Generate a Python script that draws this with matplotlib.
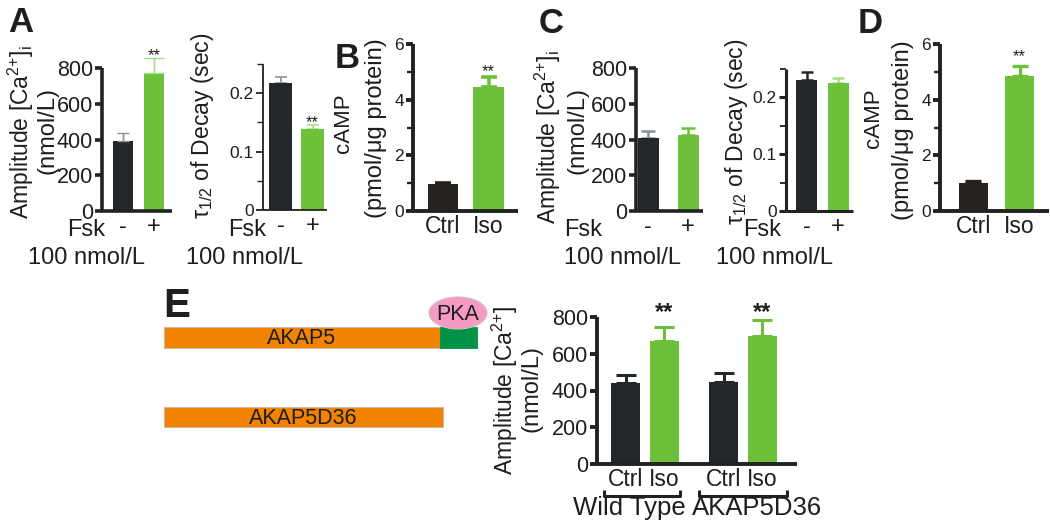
import matplotlib
matplotlib.use('Agg')
import matplotlib.pyplot as plt
from matplotlib.patches import Rectangle, Ellipse
import matplotlib.transforms as mtrans

plt.rcParams['font.family'] = ['Liberation Sans', 'DejaVu Sans']
plt.rcParams['mathtext.fontset'] = 'custom'
plt.rcParams['mathtext.rm'] = 'Liberation Sans'
plt.rcParams['mathtext.it'] = 'Liberation Sans:italic'
plt.rcParams['mathtext.sf'] = 'Liberation Sans'
plt.rcParams['mathtext.default'] = 'regular'

# ---------------- data ----------------
fsk_labels = ['-', '+']
iso_labels = ['Ctrl', 'Iso']

a_amp = [393, 774]
a_amp_err = [42, 84]
a_tau = [0.217, 0.138]
a_tau_err = [0.010, 0.007]
b_camp = [0.96, 4.44]
b_camp_err = [0.06, 0.39]
c_amp = [408, 425]
c_amp_err = [40, 40]
c_tau = [0.231, 0.225]
c_tau_err = [0.013, 0.010]
d_camp = [1.02, 4.85]
d_camp_err = [0.04, 0.37]

e_groups = ['Wild Type', 'AKAP5D36']
e_ctrl = [439, 448]
e_ctrl_err = [45, 46]
e_iso = [669, 697]
e_iso_err = [75, 87]

amp_ticks = [0, 200, 400, 600, 800]
tau_ticks = [0, 0.1, 0.2]
tau_minor = [0.05, 0.15, 0.25]
camp_ticks = [0, 2, 4, 6]
camp_minor = [1, 3, 5]

# domain schematic (lengths in arbitrary units)
akap5_domains = [('AKAP5', 276), ('', 37)]
akap5d36_domains = [('AKAP5D36', 279)]

# ---------------- style ----------------
DARK = '#23272a'
GREEN = '#6cc03a'
LGRAY = '#8d9194'
LGREEN = '#a9dc8c'
AXC = '#222222'
ORANGE = '#f18300'
DGREEN = '#009247'
PINK = '#f59ac3'
TXT = '#1e1e1e'

W, H = 1050, 524
fig = plt.figure(figsize=(W / 100, H / 100), dpi=100)


def px_axes(l, t, r, b):
    return fig.add_axes([l / W, 1 - b / H, (r - l) / W, (b - t) / H])


def T(x, y, s, **kw):
    return fig.text(x / W, 1 - y / H, s, **kw)


def bar_panel(ax, pos, vals, errs, colors, ecolors, width, xlim, ylim,
              yticks, minor, spine_lw, tick_fs, elw, capsize,
              xticklabels=None, xtick_fs=16, xpad=2, ytl=None):
    ax.bar(pos, vals, width=width, color=colors, zorder=2)
    for p, v, e, ec in zip(pos, vals, errs, ecolors):
        ax.errorbar([p], [v], yerr=[[0], [e]], fmt='none', ecolor=ec,
                    elinewidth=elw, capsize=capsize, capthick=elw,
                    clip_on=False, zorder=1)
    ax.set_xlim(*xlim)
    ax.set_ylim(*ylim)
    for s in ['top', 'right']:
        ax.spines[s].set_visible(False)
    for s in ['left', 'bottom']:
        ax.spines[s].set_linewidth(spine_lw)
        ax.spines[s].set_color(AXC)
        ax.spines[s].set_capstyle('butt')
    ax.set_yticks(yticks)
    if ytl is not None:
        ax.set_yticklabels(ytl)
    if minor is not None:
        ax.set_yticks(minor, minor=True)
    ax.tick_params(axis='y', which='major', direction='out', length=5,
                   width=spine_lw, color=AXC, labelsize=tick_fs, pad=1.5,
                   labelcolor=TXT)
    ax.tick_params(axis='y', which='minor', direction='out', length=4,
                   width=max(spine_lw * 0.6, 1), color=AXC)
    ax.set_xticks(pos)
    if xticklabels is not None:
        ax.set_xticklabels(xticklabels)
    else:
        ax.set_xticklabels([''] * len(pos))
    ax.tick_params(axis='x', length=0, labelsize=xtick_fs, pad=xpad,
                   labelcolor=TXT)
    ax.patch.set_alpha(0)


def stars(ax, x, y, off, fs=12, weight='normal'):
    ax.annotate('**', xy=(x, y), xytext=(0, off), textcoords='offset points',
                ha='center', va='baseline', fontsize=fs, fontweight=weight,
                color=TXT, annotation_clip=False)


pos2 = [0, 1]

# ---- Panel A amplitude ----
axA = px_axes(102, 68, 172, 211)
bar_panel(axA, pos2, a_amp, a_amp_err, [DARK, GREEN], [LGRAY, LGREEN],
          0.645, (-0.677, 1.581), (0, 800), amp_ticks, None, 2.6, 15.5,
          1.0, 0, fsk_labels, 17, 3.5)
axA.errorbar([1], [a_amp[1]], yerr=[[0], [a_amp_err[1]]], fmt='none',
             ecolor=LGREEN, elinewidth=1, capsize=7, capthick=1, clip_on=False)
axA.errorbar([0], [a_amp[0]], yerr=[[0], [a_amp_err[0]]], fmt='none',
             ecolor=LGRAY, elinewidth=1, capsize=4, capthick=1, clip_on=False)
stars(axA, 1, a_amp[1] + a_amp_err[1], -1.5)

# ---- Panel A tau ----
axAt = px_axes(263, 64, 327, 210)
bar_panel(axAt, pos2, a_tau, a_tau_err, [DARK, GREEN], [LGRAY, LGREEN],
          0.69, (-0.547, 1.453), (0, 0.25), tau_ticks, tau_minor, 1.3, 12.5,
          1.2, 4, fsk_labels, 17, 3.5, ytl=['0', '0.1', '0.2'])
stars(axAt, 1, a_tau[1] + a_tau_err[1], -1.5)

# ---- Panel B cAMP ----
axB = px_axes(413, 44, 518, 211)
bar_panel(axB, pos2, b_camp, b_camp_err, ['#25221f', GREEN], ['#25221f', GREEN],
          0.66, (-0.659, 1.648), (0, 6), camp_ticks, camp_minor, 2.8, 12.5,
          2.6, 5.5, iso_labels, 16.5, 3)
stars(axB, 1, b_camp[1] + b_camp_err[1], 0.5)

# ---- Panel C amplitude ----
axC = px_axes(636, 68, 703, 211)
bar_panel(axC, pos2, c_amp, c_amp_err, [DARK, GREEN], [LGRAY, GREEN],
          0.525, (-0.3, 1.375), (0, 800), amp_ticks, None, 2.6, 15.5,
          1.8, 5, fsk_labels, 17, 3.5)

# ---- Panel C tau ----
axCt = px_axes(786, 69, 853, 211)
bar_panel(axCt, pos2, c_tau, c_tau_err, [DARK, GREEN], [DARK, LGREEN],
          0.667, (-0.651, 1.476), (0, 0.25), tau_ticks, tau_minor, 2.2, 12.5,
          1.8, 4.5, fsk_labels, 17, 3.5, ytl=['0', '0.1', '0.2'])

# ---- Panel D cAMP ----
axD = px_axes(940, 44, 1049, 211)
bar_panel(axD, pos2, d_camp, d_camp_err, ['#25221f', GREEN], ['#25221f', GREEN],
          0.63, (-0.728, 1.641), (0, 6), camp_ticks, camp_minor, 2.8, 12.5,
          2.4, 6, iso_labels, 16.5, 3)
stars(axD, 1, d_camp[1] + d_camp_err[1], 3.5)

# ---- Panel E amplitude ----
axE = px_axes(597, 317, 797, 464)
e_ctrl_pos = [0, 2.55]
e_iso_pos = [1, 3.55]
e_pos = [e_ctrl_pos[0], e_iso_pos[0], e_ctrl_pos[1], e_iso_pos[1]]
e_vals = [e_ctrl[0], e_iso[0], e_ctrl[1], e_iso[1]]
e_errs = [e_ctrl_err[0], e_iso_err[0], e_ctrl_err[1], e_iso_err[1]]
bar_panel(axE, e_pos, e_vals, e_errs, [DARK, GREEN] * 2, [DARK, GREEN] * 2,
          0.75, (-0.74, 4.45), (0, 800), amp_ticks, None, 2.8, 15.5,
          2.2, 7, iso_labels * 2, 16.5, 3)
for p in e_iso_pos:
    axE.text(p, 790, '**', ha='center', va='baseline', fontsize=17,
             fontweight='bold', color=TXT)
trE = mtrans.blended_transform_factory(axE.transData, axE.transAxes)
bracket_extent = [(-1.06, 0.92), (-1.14, 1.15)]
group_label_shift = [-0.41, 0.365]
for g, (c, i) in enumerate(zip(e_ctrl_pos, e_iso_pos)):
    mid = (c + i) / 2
    x0, x1 = mid + bracket_extent[g][0], mid + bracket_extent[g][1]
    axE.plot([x0, x0, x1, x1], [-0.175, -0.215, -0.215, -0.175], color=AXC,
             lw=2.2, transform=trE, clip_on=False, solid_capstyle='butt')
    axE.text(mid + group_label_shift[g], -0.30, e_groups[g], transform=trE,
             ha='center', va='center', fontsize=18.5, color=TXT)

# ---- y labels ----
lab = dict(rotation=90, ha='center', va='center', color=TXT)
ca_label = 'Amplitude [Ca$^{2{+}}$]'
T(21, 132, ca_label + '$_{i}$', fontsize=16.5, **lab)
T(47, 131, '(nmol/L)', fontsize=17, **lab)
T(203, 126, r'$\tau_{1/2}$ of Decay (sec)', fontsize=16.5, **lab)
T(344, 123, 'cAMP', fontsize=16, **lab)
T(376, 128, '(pmol/μg protein)', fontsize=17, **lab)
T(548, 137, ca_label + '$_{i}$', fontsize=16.5, **lab)
T(577, 131, '(nmol/L)', fontsize=17, **lab)
T(737, 132, r'$\tau_{1/2}$ of Decay (sec)', fontsize=16.5, **lab)
T(873, 118, 'cAMP', fontsize=16, **lab)
T(903, 130, '(pmol/μg protein)', fontsize=17, **lab)
T(505, 390, ca_label, fontsize=16.5, **lab)
T(532, 389, '(nmol/L)', fontsize=17, **lab)

# ---- Fsk / concentration labels ----
ht = dict(ha='center', va='center', fontsize=17, color=TXT)
T(86, 230, 'Fsk', **ht)
T(86, 258, '100 nmol/L', **ht)
T(247, 230, 'Fsk', **ht)
T(244, 258, '100 nmol/L', **ht)
T(583, 230, 'Fsk', **ht)
T(623, 258, '100 nmol/L', **ht)
T(762, 230, 'Fsk', **ht)
T(775, 258, '100 nmol/L', **ht)

# ---- panel letters ----
let = dict(ha='center', va='baseline', fontsize=25, fontweight='bold',
           color=TXT)
T(21, 32, 'A', **let)
T(347, 68, 'B', **let)
T(551, 33, 'C', **let)
T(870, 33, 'D', **let)
T(177, 317, 'E', fontsize=29, fontweight='bold', ha='center', va='baseline',
  color=TXT)

# ---- schematic ----
axS = fig.add_axes([0, 0, 1, 1], zorder=-1)
axS.set_xlim(0, W)
axS.set_ylim(H, 0)
axS.axis('off')
x = 164
cols = [ORANGE, DGREEN]
for (name, ln), col in zip(akap5_domains, cols):
    axS.add_patch(Rectangle((x, 327), ln, 21, facecolor=col,
                            edgecolor='#c9b8a8' if col == ORANGE else col, lw=0.6))
    if name:
        axS.text(x + ln / 2, 338, name, ha='center', va='center',
                 fontsize=15.5, color=TXT)
    x += ln
axS.add_patch(Ellipse((x - 19, 313), 58, 32, facecolor=PINK,
                      edgecolor='#c8c0c4', lw=0.8))
axS.text(x - 19, 314, 'PKA', ha='center', va='center', fontsize=15.5,
         color=TXT)
x = 164
for name, ln in akap5d36_domains:
    axS.add_patch(Rectangle((x, 407), ln, 20, facecolor=ORANGE,
                            edgecolor='#c9b8a8', lw=0.6))
    axS.text(x + ln / 2, 418, name, ha='center', va='center', fontsize=15.5,
             color=TXT)
    x += ln

fig.savefig('out.png', dpi=100)
